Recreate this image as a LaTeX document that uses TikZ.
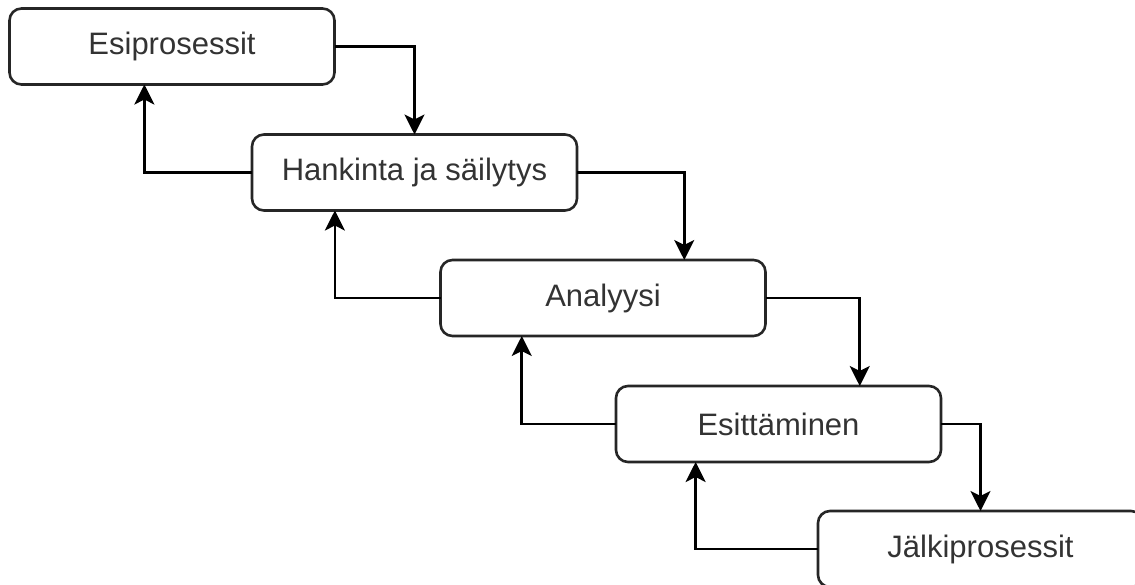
\documentclass[tikz,border=0pt]{standalone}
\usepackage{fontspec}
\setmainfont{Liberation Sans}
\usetikzlibrary{calc,arrows.meta}
\begin{document}
\begin{tikzpicture}[x=1pt,y=-1pt,
  procbox/.style={draw=black!85, line width=2.6pt, rounded corners=12pt, fill=white,
    minimum width=325pt, minimum height=76pt, inner sep=0pt, outer sep=0pt,
    font=\fontsize{31}{37}\selectfont, text=black!80},
  arr/.style={draw=black, line width=2.6pt, -{Stealth[length=20pt,width=20pt,inset=5pt]}}]
\useasboundingbox (0,0) rectangle (1135,585);
\clip (0,0) rectangle (1135,585);
\fill[white] (0,0) rectangle (1135,585);
\node[procbox] (b1) at (172,46.5) {Esiprosessit};
\node[procbox] (b2) at (414.5,172.5) {Hankinta ja säilytys};
\node[procbox] (b3) at (603,298) {Analyysi};
\node[procbox] (b4) at (778.5,424) {Esittäminen};
\node[procbox] (b5) at (980.5,549) {Jälkiprosessit};
% down arrows
\draw[arr] (b1.east) -| (b2.north);
\draw[arr] (b2.east) -| ($(b3.north west)!0.75!(b3.north east)$);
\draw[arr] (b3.east) -| ($(b4.north west)!0.75!(b4.north east)$);
\draw[arr] (b4.east) -| ($(b5.north west)!0.5!(b5.north east)$);
% up arrows
\draw[arr] (b2.west) -| ($(b1.south west)!0.415!(b1.south east)$);
\draw[arr] (b3.west) -| ($(b2.south west)!0.255!(b2.south east)$);
\draw[arr] (b4.west) -| ($(b3.south west)!0.25!(b3.south east)$);
\draw[arr] (b5.west) -| ($(b4.south west)!0.245!(b4.south east)$);
\end{tikzpicture}
\end{document}
